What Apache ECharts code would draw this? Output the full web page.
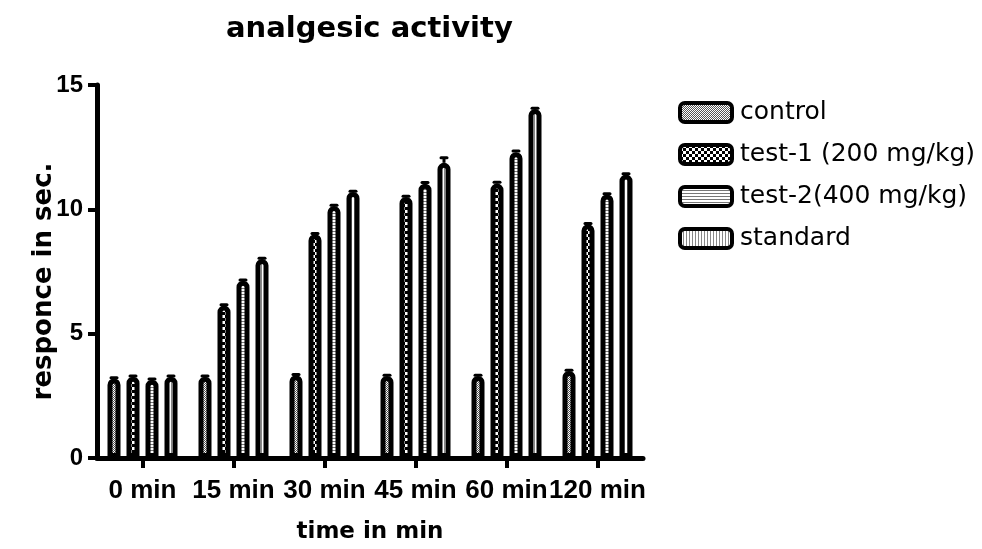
<!DOCTYPE html>
<html>
<head>
<meta charset="utf-8">
<script src="https://cdn.jsdelivr.net/npm/echarts@6/dist/echarts.min.js"></script>
<style>
html, body { margin: 0; padding: 0; background: #fff; }
#main { width: 982px; height: 549px; }
</style>
</head>
<body>
<div id="main"></div>
<script>
// analgesic activity - grouped bars with patterns
var categories = ['0 min', '15 min', '30 min', '45 min', '60 min', '120 min'];
var seriesNames = ['control', 'test-1 (200 mg/kg)', 'test-2(400 mg/kg)', 'standard'];
var control = [3.2, 3.27, 3.33, 3.3, 3.3, 3.5];
var test1 = [3.27, 6.13, 9.0, 10.5, 11.04, 9.4];
var test2 = [3.15, 7.13, 10.13, 11.03, 12.3, 10.6];
var standard = [3.27, 8.0, 10.7, 11.87, 14.03, 11.4];
// SEM (small, mostly hidden inside the bar outline)
var controlErr = [0.03, 0.03, 0.03, 0.03, 0.03, 0.03];
var test1Err = [0.03, 0.03, 0.03, 0.03, 0.05, 0.03];
var test2Err = [0.03, 0.03, 0.03, 0.05, 0.05, 0.03];
var standardErr = [0.03, 0.03, 0.03, 0.2, 0.03, 0.03];
var yTicks = [0, 5, 10, 15];

var font = 'Liberation Sans, Arial, sans-serif';
var wideFont = 'DejaVu Sans, Verdana, sans-serif';

function makePattern(w, h, draw) {
    var c = document.createElement('canvas');
    c.width = w; c.height = h;
    var ctx = c.getContext('2d');
    ctx.fillStyle = '#fff';
    ctx.fillRect(0, 0, w, h);
    draw(ctx);
    return { image: c, repeat: 'repeat' };
}

var patterns = [
    // fine gray dither
    makePattern(2, 2, function (ctx) {
        ctx.fillStyle = '#555';
        ctx.fillRect(0, 0, 1, 1);
        ctx.fillRect(1, 1, 1, 1);
    }),
    // coarse checker
    makePattern(6, 6, function (ctx) {
        ctx.fillStyle = '#000';
        ctx.fillRect(0, 0, 3, 3);
        ctx.fillRect(3, 3, 3, 3);
    }),
    // horizontal stripes
    makePattern(3, 3, function (ctx) {
        ctx.fillStyle = '#777';
        ctx.fillRect(0, 0, 3, 1);
    }),
    // vertical stripes
    makePattern(3, 3, function (ctx) {
        ctx.fillStyle = '#888';
        ctx.fillRect(0, 0, 1, 3);
    })
];

var values = [control, test1, test2, standard];
var errors = [controlErr, test1Err, test2Err, standardErr];

var barW = 13, barGapPx = 6;

var myChart = echarts.init(document.getElementById('main'));

var series = values.map(function (v, i) {
    return {
        name: seriesNames[i],
        type: 'bar',
        data: v,
        barWidth: barW,
        barGap: (barGapPx / barW * 100) + '%',
        itemStyle: {
            color: patterns[i],
            borderColor: '#000',
            borderWidth: 5,
            borderRadius: [4, 4, 0, 0]
        }
    };
});

var errData = [];
values.forEach(function (v, i) {
    v.forEach(function (val, j) {
        errData.push([j, val, errors[i][j], i]);
    });
});

series.push({
    name: 'sem',
    type: 'custom',
    z: 5,
    data: errData,
    encode: { x: 0, y: 1 },
    renderItem: function (params, api) {
        var off = (api.value(3) - 1.5) * (barW + barGapPx);
        var p = api.coord([api.value(0), api.value(1)]);
        var q = api.coord([api.value(0), api.value(1) + api.value(2)]);
        var x = p[0] + off;
        return {
            type: 'group',
            children: [{
                type: 'line',
                shape: { x1: x, y1: p[1], x2: x, y2: q[1] },
                style: { stroke: '#000', lineWidth: 3 }
            }, {
                type: 'line',
                shape: { x1: x - 3, y1: q[1], x2: x + 3, y2: q[1] },
                style: { stroke: '#000', lineWidth: 3, lineCap: 'round' }
            }]
        };
    }
});

var option = {
    backgroundColor: '#fff',
    animation: false,
    title: {
        text: 'analgesic activity',
        left: 221,
        top: 10,
        textStyle: { fontFamily: wideFont, fontSize: 29, fontWeight: 'bold', color: '#000' }
    },
    legend: {
        data: seriesNames,
        orient: 'vertical',
        left: 673,
        top: 95,
        icon: 'roundRect',
        itemWidth: 52,
        itemHeight: 19,
        itemGap: 17,
        selectedMode: false,
        itemStyle: { borderColor: '#000', borderWidth: 4 },
        textStyle: { fontFamily: wideFont, fontSize: 25, color: '#000', lineHeight: 25, padding: [0, 0, 0, 3] }
    },
    grid: {
        left: 97,
        right: 339,
        top: 85,
        bottom: 88,
        containLabel: false
    },
    xAxis: {
        type: 'category',
        data: categories,
        name: 'time in min',
        nameLocation: 'middle',
        nameGap: 63,
        nameMoveOverlap: false,
        nameTextStyle: { fontFamily: wideFont, fontSize: 23, fontWeight: 'bold', color: '#000' },
        axisLine: { show: true, lineStyle: { color: '#000', width: 5, cap: 'round' } },
        axisTick: { show: true, alignWithLabel: true, length: 10, lineStyle: { color: '#000', width: 4 } },
        axisLabel: {
            interval: 0,
            margin: 20,
            fontFamily: font, fontSize: 26, fontWeight: 'bold', color: '#000'
        },
        splitLine: { show: false }
    },
    yAxis: {
        type: 'value',
        min: yTicks[0],
        max: yTicks[yTicks.length - 1],
        interval: yTicks[1] - yTicks[0],
        name: 'responce in sec.',
        nameLocation: 'middle',
        nameGap: 40,
        nameMoveOverlap: false,
        nameTextStyle: {
            fontFamily: wideFont, fontSize: 26, fontWeight: 'bold', color: '#000',
            padding: [0, 20, 0, 0]
        },
        axisLine: { show: true, lineStyle: { color: '#000', width: 5, cap: 'round' } },
        axisTick: { show: true, length: 9, lineStyle: { color: '#000', width: 4 } },
        axisLabel: {
            margin: 14,
            fontFamily: font, fontSize: 24, fontWeight: 'bold', color: '#000'
        },
        splitLine: { show: false }
    },
    series: series
};
myChart.setOption(option);
</script>
</body>
</html>
